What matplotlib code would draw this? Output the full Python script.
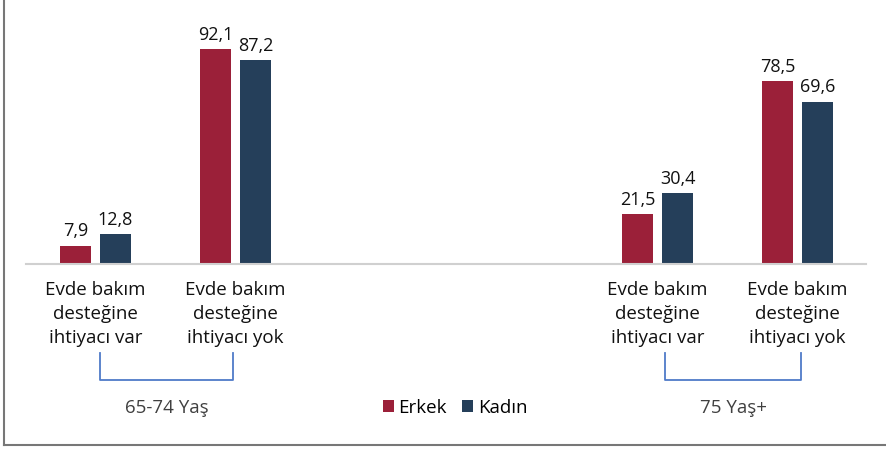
import matplotlib.pyplot as plt
from matplotlib.lines import Line2D

plt.rcParams['font.family'] = ['Open Sans', 'DejaVu Sans']

categories = ['Evde bakım\ndesteğine\nihtiyacı var', 'Evde bakım\ndesteğine\nihtiyacı yok']
groups = ['65-74 Yaş', '75 Yaş+']
erkek = [7.9, 92.1, 21.5, 78.5]
kadin = [12.8, 87.2, 30.4, 69.6]

red = '#9B2039'
blue = '#253F5A'
bracket = '#4F7BC8'

# slots 0,1 for first group, 4,5 for second (empty gap in the middle)
pos = [0, 1, 4.015, 5.015]
w = 0.22
off = 0.143

fig = plt.figure(figsize=(8.86, 4.5), dpi=100)
ax = fig.add_axes([25.5 / 886, 1 - 264 / 450, 840 / 886, 233.4 / 450])

ax.bar([p - off for p in pos], erkek, w, color=red, label='Erkek')
ax.bar([p + off for p in pos], kadin, w, color=blue, label='Kadın')

for p, v in zip(pos, erkek):
  ax.text(p - off, v + 2.2, f'{v:.1f}'.replace('.', ','), ha='center', va='bottom', fontsize=13, color='#111111')
for p, v in zip(pos, kadin):
  ax.text(p + off, v + 2.2, f'{v:.1f}'.replace('.', ','), ha='center', va='bottom', fontsize=13, color='#111111')

ax.set_xlim(-0.5, 5.5)
ax.set_ylim(0, 100)
for s in ['top', 'right', 'left']:
  ax.spines[s].set_visible(False)
ax.spines['bottom'].set_color('#d0d0d0')
ax.spines['bottom'].set_linewidth(1.5)
ax.set_yticks([])
ax.set_xticks(pos)
ax.set_xticklabels(categories * 2, fontsize=13.5, color='#111111', linespacing=1.43)
ax.tick_params(axis='x', length=0, pad=12)

# brackets under the category labels
ends = [(0.035, 0.985), (4.07, 5.04)]
for g, (x0, x1) in zip(groups, ends):
  ax.plot([x0, x0, x1, x1], [-38, -49.5, -49.5, -38], color=bracket, lw=1.3,
          clip_on=False, solid_joinstyle='round')
  ax.text((x0 + x1) / 2, -61.5, g, ha='center', va='center', fontsize=13.5, color='#404040')

ax.legend(loc='center', bbox_to_anchor=(455 / 886, 1 - 408 / 450), bbox_transform=fig.transFigure,
          ncol=2, frameon=False, fontsize=13.5, handlelength=0.6, handleheight=0.6,
          handletextpad=0.25, columnspacing=0.8)

# outer frame, left and bottom only
fig.add_artist(Line2D([3.5 / 886, 3.5 / 886], [1 - 445 / 450, 1], color='#777777', lw=1.5))
fig.add_artist(Line2D([3.5 / 886, 1], [1 - 445 / 450, 1 - 445 / 450], color='#777777', lw=1.5))

fig.savefig('out.png', dpi=100)
